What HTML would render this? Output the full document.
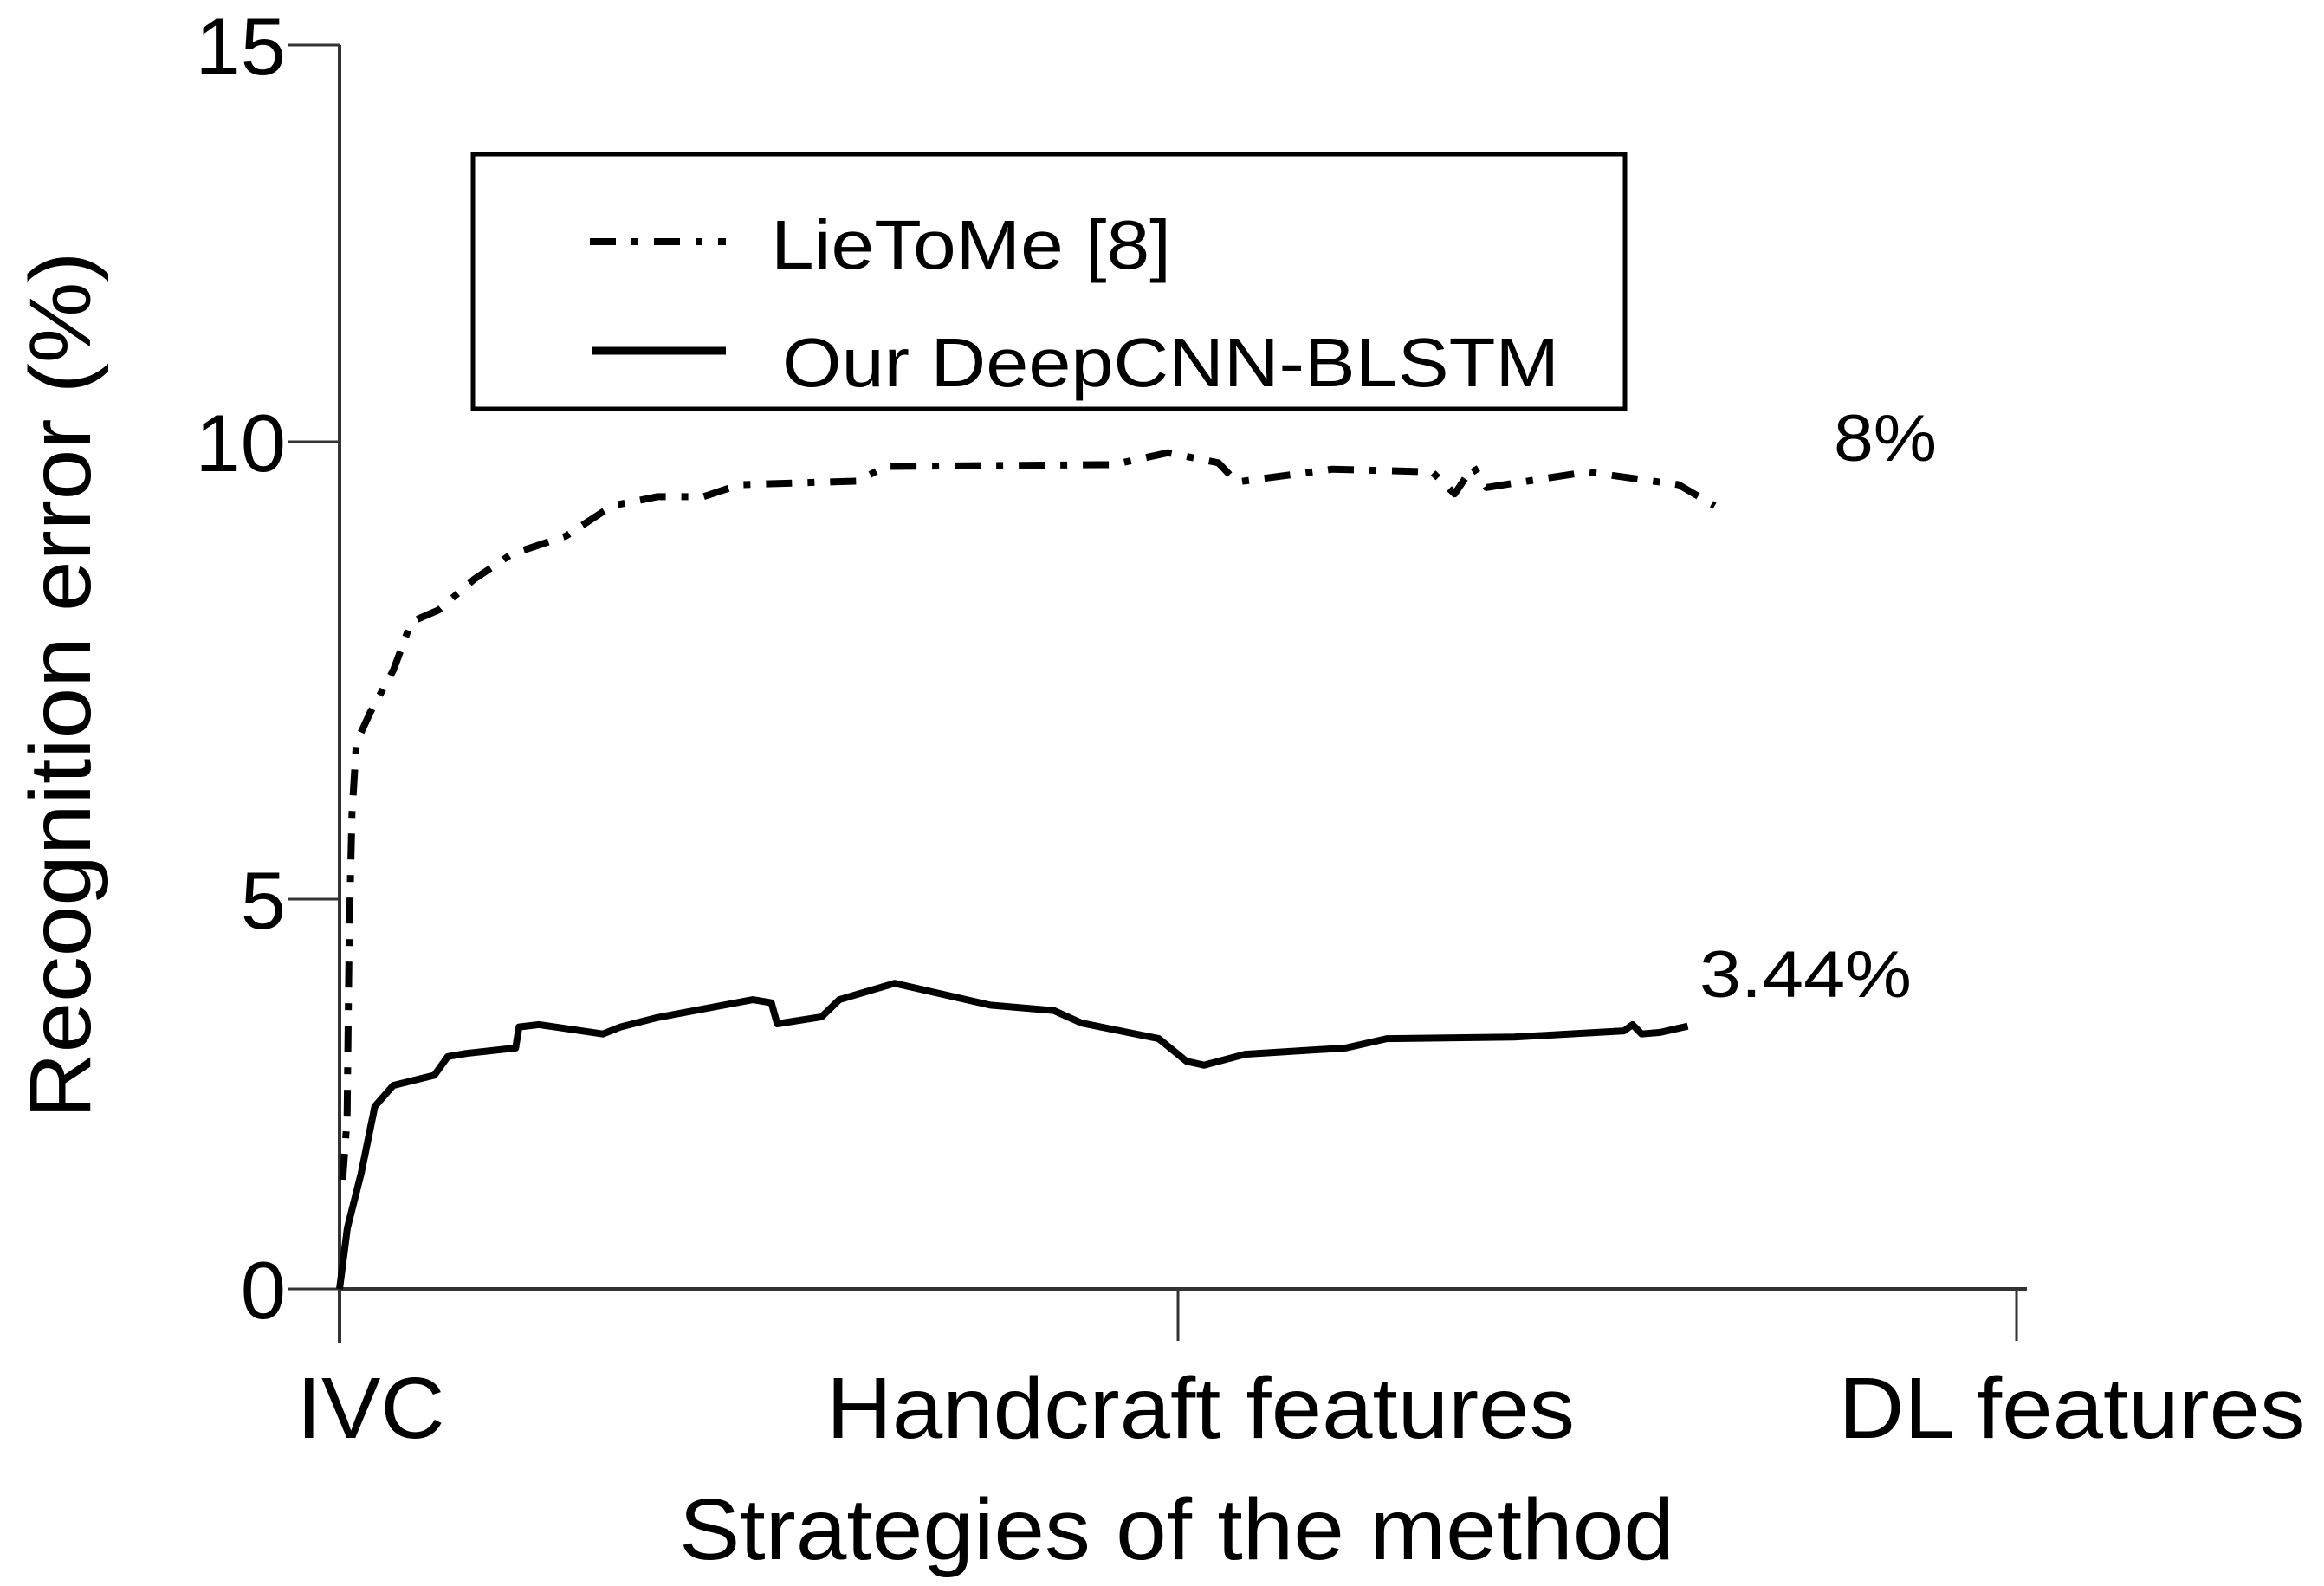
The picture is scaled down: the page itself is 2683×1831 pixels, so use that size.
<!DOCTYPE html>
<html><head><meta charset="utf-8"><style>
html,body{margin:0;padding:0;background:#fff;}
svg{display:block;font-family:"Liberation Sans",sans-serif;}
</style></head><body>
<svg id="chart" width="2683" height="1831" viewBox="0 0 2683 1831" xmlns="http://www.w3.org/2000/svg">
<rect width="2683" height="1831" fill="#fff"/>
<g id="axes" stroke="#333" stroke-width="4" fill="none">
<line x1="392" y1="52" x2="392" y2="1550"/>
<line x1="392" y1="1488" x2="2340" y2="1488"/>
</g>
<g id="yticks"></g>
<g id="xticks"></g>
<g id="series"></g>
<rect x="546" y="178" width="1330" height="294" fill="none" stroke="#000" stroke-width="5"/>
<line x1="681" y1="279" x2="838" y2="279" stroke="#000" stroke-width="8" stroke-dasharray="30 18 8 18"/>
<text x="890" y="310" font-size="80" textLength="462" lengthAdjust="spacingAndGlyphs">LieToMe [8]</text>
<line x1="684" y1="405" x2="838" y2="405" stroke="#000" stroke-width="9"/>
<text x="903" y="446" font-size="80" textLength="897" lengthAdjust="spacingAndGlyphs">Our DeepCNN-BLSTM</text>
<text x="2117" y="532" font-size="76" textLength="119" lengthAdjust="spacingAndGlyphs">8%</text>
<text x="1962" y="1151" font-size="76" textLength="245" lengthAdjust="spacingAndGlyphs">3.44%</text>
<text x="784" y="1800" font-size="100" textLength="1149" lengthAdjust="spacingAndGlyphs">Strategies of the method</text>
<text transform="translate(104,791) rotate(-90)" text-anchor="middle" font-size="100" textLength="1001" lengthAdjust="spacingAndGlyphs">Recognition error (%)</text>
</svg>
<script>
const yTickValues = [0, 5, 10, 15];
const yTickLabels = ["0", "5", "10", "15"];
const xCategories = ["IVC", "Handcraft features", "DL features"];
const xCatPositions = [0, 1, 2];
const lieX = [0.0037,0.009,0.0115,0.0148,0.02,0.0366,0.064,0.0855,0.118,0.161,0.205,0.27,0.325,0.379,0.434,0.477,0.618,0.651,0.923,0.988,1.048,1.07,1.184,1.303,1.33,1.352,1.368,1.488,1.597,1.64];
const lieY = [1.4,2.18,4.52,5.92,6.71,7.04,7.5,8.03,8.16,8.5,8.77,8.97,9.3,9.4,9.4,9.53,9.57,9.73,9.75,9.88,9.77,9.56,9.7,9.67,9.43,9.73,9.5,9.67,9.53,9.3];
const ourX = [0,0.0093,0.0257,0.042,0.064,0.113,0.129,0.151,0.21,0.214,0.238,0.314,0.335,0.379,0.493,0.515,0.522,0.575,0.596,0.662,0.776,0.852,0.885,0.977,1.01,1.031,1.08,1.2,1.249,1.401,1.532,1.542,1.553,1.575,1.608];
const ourY = [0,0.78,1.48,2.34,2.61,2.74,2.98,3.02,3.09,3.36,3.39,3.27,3.36,3.48,3.71,3.67,3.4,3.49,3.71,3.92,3.64,3.57,3.41,3.21,2.92,2.87,3.01,3.09,3.21,3.23,3.31,3.39,3.27,3.29,3.37];

const NS = "http://www.w3.org/2000/svg";
function xs(v){ return 392 + v * 968; }
function ys(v){
  if (v <= 5) return 1488 - v * 90;
  if (v <= 10) return 1038 - (v - 5) * 105.6;
  return 510 - (v - 10) * 91.6;
}
function mk(tag, attrs){ const e = document.createElementNS(NS, tag); for (const k in attrs) e.setAttribute(k, attrs[k]); return e; }

const yt = document.getElementById('yticks');
yTickValues.forEach((v, i) => {
  const l = mk('line', {x1: 332, x2: 392, y1: ys(v), y2: ys(v), stroke: '#333', 'stroke-width': 3});
  
  
  yt.appendChild(l);
  const t = mk('text', {x: 330, y: ys(v) + 34, 'font-size': 94, 'text-anchor': 'end'});
  
  
  t.textContent = yTickLabels[i];
  yt.appendChild(t);
});
const xt = document.getElementById('xticks');
const xLabelWidths = [171, 864, 539];
xCategories.forEach((c, i) => {
  const px = xs(xCatPositions[i]);
  if (i > 0) {
    const l = mk('line', {x1: px, x2: px, y1: 1488, y2: 1548, stroke: '#333', 'stroke-width': 3});
    
    
    xt.appendChild(l);
  }
  const cx = i === 0 ? 428 : (i === 1 ? 1386 : 2392);
  const t = mk('text', {x: cx, y: 1660, 'font-size': 100, 'text-anchor': 'middle', textLength: xLabelWidths[i], lengthAdjust: 'spacingAndGlyphs'});
  
  
  t.textContent = c;
  xt.appendChild(t);
});
const sg = document.getElementById('series');
function path(xa, ya){ return xa.map((x, i) => (i ? 'L' : 'M') + xs(x).toFixed(1) + ' ' + ys(ya[i]).toFixed(1)).join(' '); }
const p1 = mk('path', {d: path(lieX, lieY), fill: 'none', stroke: '#000', 'stroke-width': 8, 'stroke-dasharray': '30 18 8 18', 'stroke-linejoin': 'round'});


sg.appendChild(p1);
const p2 = mk('path', {d: path(ourX, ourY), fill: 'none', stroke: '#000', 'stroke-width': 8, 'stroke-linejoin': 'round'});


sg.appendChild(p2);
</script>
</body></html>
